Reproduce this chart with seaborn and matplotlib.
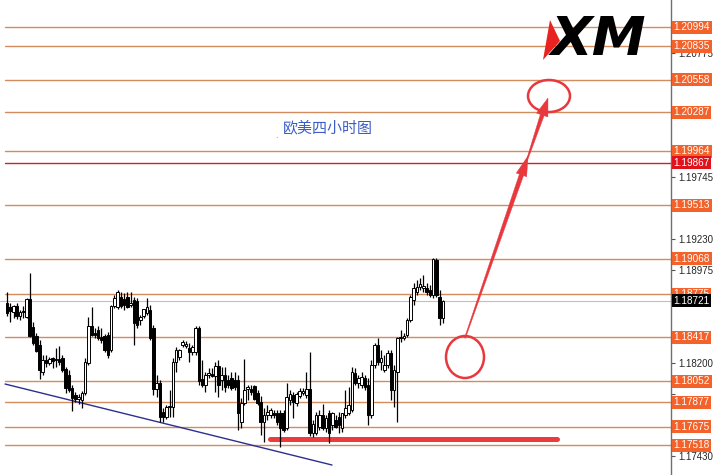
import numpy as np
import pandas as pd
import seaborn as sns
import matplotlib.pyplot as plt
from matplotlib.patches import Ellipse, Polygon

# EURUSD 4H candles
opens = [1.18701, 1.18668, 1.18626, 1.18676, 1.18593, 1.18635, 1.18585, 1.18734, 1.18502, 1.18427,
         1.18352, 1.18128, 1.18227, 1.18202, 1.18244, 1.18227, 1.18236, 1.18244, 1.18153, 1.18103,
         1.17995, 1.17937, 1.17903, 1.17895, 1.17953, 1.18202, 1.18510, 1.18452, 1.18477, 1.18419,
         1.18427, 1.18435, 1.18310, 1.18676, 1.18668, 1.18751, 1.18734, 1.18751, 1.18684, 1.18726,
         1.18718, 1.18560, 1.18593, 1.18618, 1.18643, 1.18493, 1.17986, 1.18036, 1.17795, 1.17754,
         1.17837, 1.17837, 1.18211, 1.18252, 1.18352, 1.18344, 1.18327, 1.18294, 1.18294, 1.18493,
         1.18070, 1.18020, 1.18103, 1.18111, 1.18094, 1.18178, 1.18061, 1.18103, 1.18061, 1.18078,
         1.18061, 1.18061, 1.17712, 1.17870, 1.17986, 1.17986, 1.18011, 1.17953, 1.17878, 1.17712,
         1.17770, 1.17770, 1.17787, 1.17787, 1.17787, 1.17787, 1.17662, 1.17895, 1.17937, 1.17870,
         1.17928, 1.17953, 1.17937, 1.17986, 1.17621, 1.17621, 1.17671, 1.17770, 1.17662, 1.17787,
         1.17687, 1.17729, 1.17754, 1.17662, 1.17770, 1.17787, 1.17812, 1.18119, 1.18036, 1.18020,
         1.18078, 1.18020, 1.17770, 1.18186, 1.18352, 1.18211, 1.18144, 1.18186, 1.18286, 1.17978,
         1.18128, 1.18410, 1.18410, 1.18435, 1.18560, 1.18726, 1.18792, 1.18834, 1.18826, 1.18826,
         1.18809, 1.18768, 1.19058, 1.18751, 1.18576]
highs = [1.18792, 1.18701, 1.18684, 1.18701, 1.18643, 1.18676, 1.18743, 1.18950, 1.18543, 1.18452,
         1.18394, 1.18269, 1.18269, 1.18252, 1.18252, 1.18327, 1.18344, 1.18269, 1.18169, 1.18144,
         1.18020, 1.17961, 1.17945, 1.17970, 1.18244, 1.18585, 1.18668, 1.18493, 1.18510, 1.18493,
         1.18443, 1.18460, 1.18684, 1.18768, 1.18809, 1.18792, 1.18784, 1.18792, 1.18792, 1.18751,
         1.18743, 1.18601, 1.18643, 1.18743, 1.18684, 1.18518, 1.18103, 1.18061, 1.17829, 1.17853,
         1.17978, 1.18244, 1.18335, 1.18319, 1.18394, 1.18385, 1.18369, 1.18352, 1.18510, 1.18510,
         1.18227, 1.18128, 1.18161, 1.18161, 1.18211, 1.18227, 1.18169, 1.18169, 1.18103, 1.18128,
         1.18128, 1.18103, 1.17912, 1.18236, 1.18020, 1.18020, 1.18020, 1.17978, 1.17928, 1.17829,
         1.17853, 1.17829, 1.17812, 1.17812, 1.17812, 1.17812, 1.18036, 1.17978, 1.17961, 1.17961,
         1.17995, 1.17995, 1.18128, 1.18294, 1.17729, 1.17795, 1.17812, 1.17862, 1.17770, 1.17812,
         1.17795, 1.17770, 1.17795, 1.17745, 1.17978, 1.18003, 1.18169, 1.18161, 1.18103, 1.18128,
         1.18103, 1.18078, 1.18227, 1.18369, 1.18410, 1.18310, 1.18269, 1.18310, 1.18310, 1.18186,
         1.18419, 1.18477, 1.18452, 1.18576, 1.18768, 1.18867, 1.18892, 1.18909, 1.18934, 1.18867,
         1.18851, 1.19075, 1.19075, 1.18809, 1.18726]
lows = [1.18593, 1.18543, 1.18576, 1.18568, 1.18560, 1.18576, 1.18576, 1.18419, 1.18352, 1.18294,
        1.18070, 1.18103, 1.18169, 1.18186, 1.18161, 1.18169, 1.18186, 1.18128, 1.17953, 1.17961,
        1.17804, 1.17878, 1.17862, 1.17829, 1.17937, 1.18186, 1.18427, 1.18410, 1.18394, 1.18369,
        1.18294, 1.18244, 1.18294, 1.18660, 1.18651, 1.18660, 1.18643, 1.18660, 1.18668, 1.18352,
        1.18493, 1.18518, 1.18576, 1.18601, 1.18394, 1.17937, 1.17920, 1.17712, 1.17712, 1.17737,
        1.17754, 1.17754, 1.18128, 1.18227, 1.18335, 1.18327, 1.18211, 1.18269, 1.18269, 1.18020,
        1.18003, 1.17961, 1.18078, 1.18086, 1.17961, 1.17920, 1.17978, 1.17961, 1.17995, 1.17978,
        1.17978, 1.17646, 1.17662, 1.17853, 1.17895, 1.17937, 1.17895, 1.17853, 1.17604, 1.17546,
        1.17729, 1.17745, 1.17745, 1.17687, 1.17504, 1.17629, 1.17646, 1.17853, 1.17745, 1.17845,
        1.17912, 1.17937, 1.17912, 1.17596, 1.17588, 1.17604, 1.17646, 1.17646, 1.17629, 1.17538,
        1.17646, 1.17662, 1.17621, 1.17629, 1.17745, 1.17770, 1.17795, 1.18020, 1.17995, 1.17995,
        1.17978, 1.17687, 1.17745, 1.18161, 1.18186, 1.18144, 1.18128, 1.18161, 1.17895, 1.17837,
        1.17712, 1.18377, 1.18394, 1.18419, 1.18543, 1.18684, 1.18768, 1.18809, 1.18792, 1.18768,
        1.18751, 1.18743, 1.18751, 1.18518, 1.18535]
closes = [1.18618, 1.18635, 1.18676, 1.18593, 1.18626, 1.18626, 1.18734, 1.18427, 1.18369, 1.18302,
          1.18144, 1.18227, 1.18202, 1.18236, 1.18219, 1.18236, 1.18211, 1.18144, 1.17995, 1.17978,
          1.17912, 1.17903, 1.17920, 1.17953, 1.18211, 1.18510, 1.18435, 1.18435, 1.18410, 1.18394,
          1.18310, 1.18269, 1.18676, 1.18743, 1.18792, 1.18676, 1.18684, 1.18668, 1.18701, 1.18535,
          1.18518, 1.18585, 1.18651, 1.18668, 1.18410, 1.17986, 1.18036, 1.17754, 1.17754, 1.17837,
          1.17845, 1.18211, 1.18310, 1.18310, 1.18377, 1.18360, 1.18294, 1.18335, 1.18493, 1.18053,
          1.18020, 1.18103, 1.18119, 1.18094, 1.18178, 1.18020, 1.18103, 1.18003, 1.18020, 1.17995,
          1.18003, 1.17787, 1.17870, 1.17978, 1.18003, 1.17961, 1.17903, 1.17870, 1.17712, 1.17770,
          1.17795, 1.17812, 1.17770, 1.17712, 1.17662, 1.17646, 1.17920, 1.17945, 1.17878, 1.17945,
          1.17970, 1.17970, 1.17986, 1.17621, 1.17696, 1.17770, 1.17770, 1.17662, 1.17745, 1.17621,
          1.17787, 1.17671, 1.17687, 1.17787, 1.17829, 1.17853, 1.18128, 1.18036, 1.18078, 1.18086,
          1.18003, 1.17770, 1.18186, 1.18352, 1.18211, 1.18244, 1.18186, 1.18286, 1.17978, 1.18144,
          1.18410, 1.18419, 1.18427, 1.18560, 1.18751, 1.18826, 1.18834, 1.18859, 1.18842, 1.18792,
          1.18768, 1.19067, 1.18768, 1.18576, 1.18721]

levels = [1.20994, 1.20835, 1.20558, 1.20287, 1.19964, 1.19513, 1.19068,
          1.18775, 1.18417, 1.18052, 1.17877, 1.17675, 1.17518]
red_level = 1.19867
last_price = 1.18721
axis_ticks = [1.21035, 1.20775, 1.20520, 1.20260, 1.20005, 1.19745, 1.19490, 1.19230,
              1.18975, 1.18715, 1.18460, 1.18200, 1.17945, 1.17690, 1.17430]
shown_ticks = [1.20775, 1.19745, 1.19230, 1.18975, 1.18200, 1.17430]
title = "欧美四小时图"

# drawn objects on the chart (trendline, support bar)
trend_x = [-0.6, 99.9]
trend_y = [1.18028, 1.17355]
support_x = [80.8, 169.0]
support_y = 1.17571

df = pd.DataFrame({"open": opens, "high": highs, "low": lows, "close": closes})
df["x"] = np.arange(len(df))
df["up"] = df["close"] >= df["open"]

sns.set_style("white")
fig = plt.figure(figsize=(7.2, 4.75), dpi=100)
ax = fig.add_axes([0, 0, 671 / 720, 1])
ax.set_xlim(-2.15, 204.1)
ax.set_ylim(1.17272, 1.21219)

line_col = "#D38C5E"
for lv in levels:
    ax.axhline(lv, xmin=0.007, color=line_col, lw=1.0, zorder=1)
ax.axhline(red_level, xmin=0.007, color="#D11F2B", lw=1.0, zorder=1)
ax.axhline(last_price, color="#B8C0CC", lw=0.8, zorder=1)

# candles
ax.vlines(df["x"], df["low"], df["high"], color="black", lw=0.9, zorder=3)
body_lo = df[["open", "close"]].min(axis=1)
body_h = (df["close"] - df["open"]).abs().clip(lower=0.00003)
ax.bar(df["x"], body_h, bottom=body_lo, width=0.8,
       color=np.where(df["up"], "white", "black"), edgecolor="black",
       linewidth=0.7, zorder=4)

sns.lineplot(x=trend_x, y=trend_y, ax=ax, color="#2B2F8F", lw=1.0)
sns.lineplot(x=support_x, y=[support_y, support_y], ax=ax, color="#EC3B3B", lw=3.6)

# right price axis
ax.yaxis.tick_right()
ax.set_yticks(axis_ticks)
ax.set_yticklabels([f"{t:.5f}" if t in shown_ticks else "" for t in axis_ticks],
                   fontsize=7, family="Liberation Sans")
ax.tick_params(axis="y", length=3, width=0.8, color="#555555", pad=2, right=True)
ax.set_xticks([])
for s in ["top", "left", "bottom"]:
    ax.spines[s].set_visible(False)
ax.spines["right"].set_color("#707070")
ax.spines["right"].set_linewidth(1.0)

tr = ax.get_yaxis_transform()
def price_tag(val, bg):
    ax.text(1.004, val, f"{val:.5f}", transform=tr, ha="left", va="center",
            fontsize=7.2, family="Liberation Sans", color="white", zorder=10,
            clip_on=False,
            bbox=dict(boxstyle="square,pad=0.15", fc=bg, ec="none"))

for lv in levels:
    price_tag(lv, "#F2622A")
price_tag(red_level, "#E0121C")
price_tag(last_price, "black")

# overlay for hand drawn annotations and logo
ov = fig.add_axes([0, 0, 1, 1])
ov.set_xlim(0, 720)
ov.set_ylim(475, 0)
ov.axis("off")
ov.patch.set_alpha(0)

red = "#E8383D"
ov.add_patch(Ellipse((465, 357), 38, 42, fill=False, ec=red, lw=1.8))
ov.add_patch(Ellipse((549, 96), 42, 32, fill=False, ec=red, lw=1.8))

def arrow(tail, tip, w0, w1, hl, hw):
    tail = np.array(tail, float)
    tip = np.array(tip, float)
    u = (tip - tail) / np.linalg.norm(tip - tail)
    n = np.array([-u[1], u[0]])
    base = tip - hl * u
    pts = [tail + w0 * n, base + w1 * n, base + hw * n, tip,
           base - hw * n, base - w1 * n, tail - w0 * n]
    ov.add_patch(Polygon(pts, closed=True, fc=red, ec=red, lw=0.3))

arrow((465, 338), (528, 156), 0.5, 2.2, 20, 5.5)
arrow((526, 163), (548, 98), 0.5, 2.0, 18, 6.0)

ov.text(283, 128, title, fontsize=10.8, color="#3B5CC4", va="center", ha="left",
        family=["Noto Sans CJK SC", "DejaVu Sans"])
ov.text(275, 136, ".", fontsize=6, color="#5A6AA0", va="center", ha="left")

# XM logo
ov.add_patch(Polygon([(550, 20), (543, 60), (560, 41)], closed=True, fc="#E8231F", ec="none"))
ov.text(551, 40, "XM", fontsize=39, fontweight="heavy", style="italic",
        color="black", va="center", ha="left", family="DejaVu Sans")

fig.savefig("out.png", dpi=100)
